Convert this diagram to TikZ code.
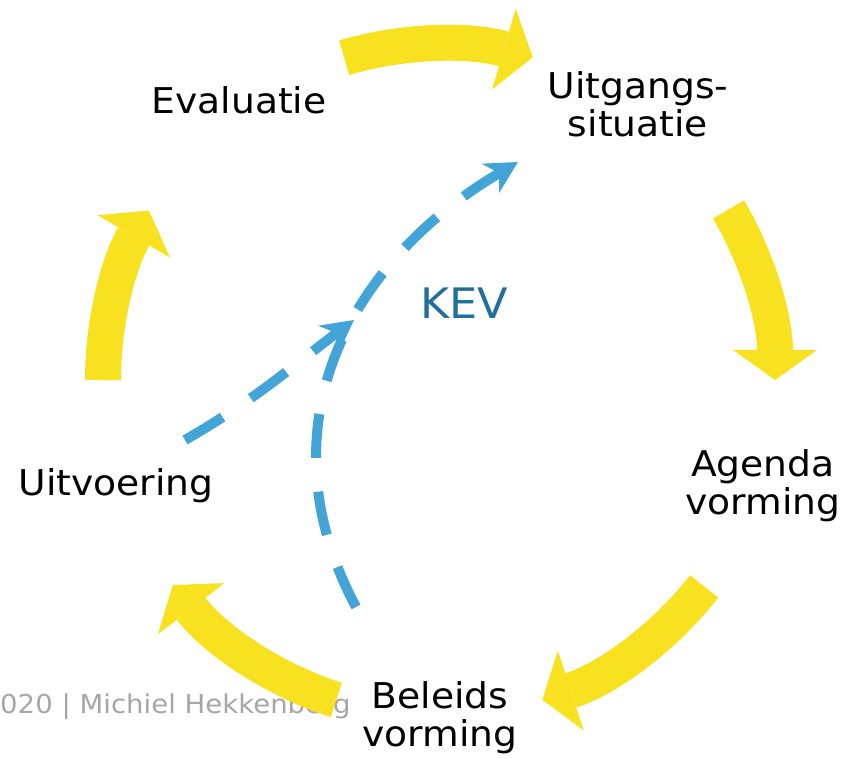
\documentclass[tikz,border=0pt]{standalone}
\usepackage{fontspec}
\setmainfont{DejaVu Sans}[FakeStretch=1.06]
\usepackage{tikz}
\usetikzlibrary{arrows.meta, calc}
\definecolor{cycleyellow}{RGB}{248,225,30}
\definecolor{kevblue}{RGB}{67,165,215}
\definecolor{kevtext}{RGB}{32,112,155}
\definecolor{footgray}{RGB}{166,166,166}
\tikzset{
    phase/.style={font=\fontsize{35.5}{38}\selectfont, align=center, anchor=base, inner sep=0pt},
    cyclearrow/.style={draw=cycleyellow, line width=36pt, -{Triangle[width=84pt, length=30pt, line width'=0pt]}},
    kevline/.style={draw=kevblue, line width=10pt, dash pattern=on 44pt off 34pt, -{Stealth[length=32pt, width=34pt, inset=10pt, line width'=0pt]}}
}

\begin{document}
\begin{tikzpicture}[x=1pt, y=1pt]
    \useasboundingbox (0,0) rectangle (841,758);
    \coordinate (c) at (439,378);
    % footer
    \node[anchor=base west, inner sep=0pt, text=footgray, font=\fontsize{26}{30}\selectfont] (footer) at (0,45) {020 | Michiel Hekkenberg};
    % phases (base = last line)
    \node[phase] (evaluatie) at (239,644) {Evaluatie};
    \node[phase] (uitgangs) at (638,621) {Uitgangs-\\situatie};
    \node[phase] (agenda) at (763,243) {Agenda\\vorming};
    \node[phase] (beleids) at (440,12) {Beleids\\vorming};
    \node[phase] (uitvoering) at (116,262) {Uitvoering};
    \node[phase, text=kevtext, font=\fontsize{42}{44}\selectfont] (kev) at (464,439) {KEV};
    % cycle
    \draw[cyclearrow] ($(c)+(106.4:336)$) arc[start angle=106.4, end angle=73.8, radius=336pt];
    \draw[cyclearrow] ($(c)+(30.5:336)$) arc[start angle=30.5, end angle=0, radius=336pt];
    \draw[cyclearrow] ($(c)+(-37.9:336)$) arc[start angle=-37.9, end angle=-72.1, radius=336pt];
    \draw[cyclearrow] ($(c)+(-107.8:336)$) arc[start angle=-107.8, end angle=-142.4, radius=336pt];
    \draw[cyclearrow] ($(c)+(180:336)$) arc[start angle=180, end angle=149.7, radius=336pt];
    % KEV shortcuts
    \coordinate (uitstart) at (185,318);
    \coordinate (kevmeet) at (354,438);
    \coordinate (belstart) at (356,151);
    \coordinate (uitgend) at (518,596);
    \draw[kevline] (belstart) .. controls +(-95,178) and +(-172,-102) .. (uitgend);
    \draw[kevline] (uitstart) to[out=30, in=217] (kevmeet);
\end{tikzpicture}
\end{document}
